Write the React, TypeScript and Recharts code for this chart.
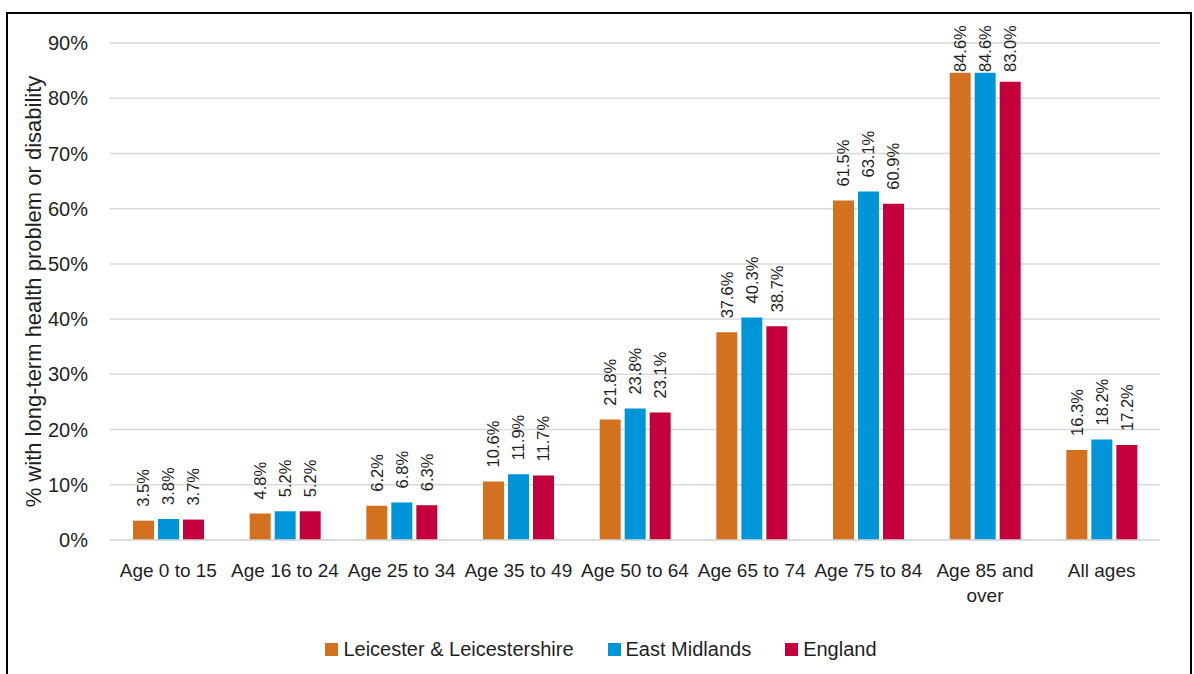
import React from "react";
import {
  Bar,
  BarChart,
  CartesianGrid,
  LabelList,
  Legend,
  XAxis,
  YAxis,
} from "recharts";

// age bands (line break where the reference wraps the label)
const categories = [
  "Age 0 to 15",
  "Age 16 to 24",
  "Age 25 to 34",
  "Age 35 to 49",
  "Age 50 to 64",
  "Age 65 to 74",
  "Age 75 to 84",
  "Age 85 and\nover",
  "All ages",
];
const leicsValues = [3.5, 4.8, 6.2, 10.6, 21.8, 37.6, 61.5, 84.6, 16.3];
const eastMidValues = [3.8, 5.2, 6.8, 11.9, 23.8, 40.3, 63.1, 84.6, 18.2];
const englandValues = [3.7, 5.2, 6.3, 11.7, 23.1, 38.7, 60.9, 83.0, 17.2];
const yTicks = [0, 10, 20, 30, 40, 50, 60, 70, 80, 90];

const series = [
  { key: "leics", name: "Leicester & Leicestershire", color: "#d2711f" },
  { key: "eastMid", name: "East Midlands", color: "#0095d8" },
  { key: "england", name: "England", color: "#c4003c" },
];

const data = categories.map((c, i) => ({
  name: c,
  leics: leicsValues[i],
  eastMid: eastMidValues[i],
  england: englandValues[i],
}));

const FONT = "'Liberation Sans', Arial, sans-serif";
const TEXT = "#1f1f1f";

function AgeTick({ x, y, payload }: any) {
  const lines = String(payload.value).split("\n");
  return (
    <text x={x} y={y + 29} textAnchor="middle" fontFamily={FONT} fontSize={19} fill={TEXT}>
      {lines.map((l, i) => (
        <tspan key={i} x={x} dy={i === 0 ? 0 : 25}>
          {l}
        </tspan>
      ))}
    </text>
  );
}

// rotated value above each bar; labels near the top are pushed back inside the frame
function ValueLabel({ x, y, width, value }: any) {
  const cx = x + width / 2;
  const by = Math.max(y - 14, 72);
  return (
    <text
      x={cx}
      y={by}
      transform={`rotate(-90 ${cx} ${by})`}
      textAnchor="start"
      dominantBaseline="central"
      fontFamily={FONT}
      fontSize={16.5}
      fill={TEXT}
    >
      {Number(value).toFixed(1)}%
    </text>
  );
}

function YTitle({ viewBox }: any) {
  const cx = viewBox.x + 19;
  const cy = viewBox.y + viewBox.height / 2;
  return (
    <text
      x={cx}
      y={cy}
      transform={`rotate(-90 ${cx} ${cy})`}
      textAnchor="middle"
      dominantBaseline="central"
      fontFamily={FONT}
      fontSize={22}
      fill={TEXT}
    >
      % with long-term health problem or disability
    </text>
  );
}

function LegendRow() {
  return (
    <div
      style={{
        height: 24,
        display: "flex",
        justifyContent: "center",
        alignItems: "center",
        gap: 34,
        fontFamily: FONT,
        fontSize: 20,
        color: TEXT,
      }}
    >
      {series.map((s) => (
        <div key={s.key} style={{ display: "flex", alignItems: "center" }}>
          <span style={{ width: 13, height: 13, background: s.color, marginRight: 5 }} />
          <span>{s.name}</span>
        </div>
      ))}
    </div>
  );
}

export default function App() {
  return (
    <div
      style={{
        position: "absolute",
        left: 0,
        top: 0,
        width: 1194,
        height: 674,
        background: "#fff",
        overflow: "hidden",
      }}
    >
      <div
        style={{
          position: "absolute",
          left: 6,
          top: 12,
          width: 1182,
          height: 700,
          border: "2px solid #000",
        }}
      />
      <div style={{ position: "absolute", left: 0, top: 0 }}>
        <BarChart
          width={1194}
          height={674}
          data={data}
          margin={{ top: 43, right: 34, left: 14, bottom: 50 }}
          barSize={21}
          barGap={4}
        >
          <CartesianGrid vertical={false} stroke="#d9d9d9" strokeWidth={1.5} />
          <XAxis
            dataKey="name"
            height={60}
            tickLine={false}
            axisLine={{ stroke: "#d9d9d9", strokeWidth: 1.5 }}
            tick={<AgeTick />}
            interval={0}
          />
          <YAxis
            width={96}
            domain={[0, 90]}
            ticks={yTicks}
            tickLine={false}
            axisLine={false}
            tickMargin={16}
            tickFormatter={(v) => `${v}%`}
            tick={{ fontSize: 20, fill: TEXT, fontFamily: FONT }}
            label={{ content: <YTitle /> }}
          />
          <Legend
            verticalAlign="bottom"
            content={<LegendRow />}
            wrapperStyle={{ left: 28, width: 1146, bottom: 13 }}
          />
          {series.map((s) => (
            <Bar key={s.key} dataKey={s.key} name={s.name} fill={s.color} isAnimationActive={false}>
              <LabelList dataKey={s.key} content={<ValueLabel />} />
            </Bar>
          ))}
        </BarChart>
      </div>
    </div>
  );
}
